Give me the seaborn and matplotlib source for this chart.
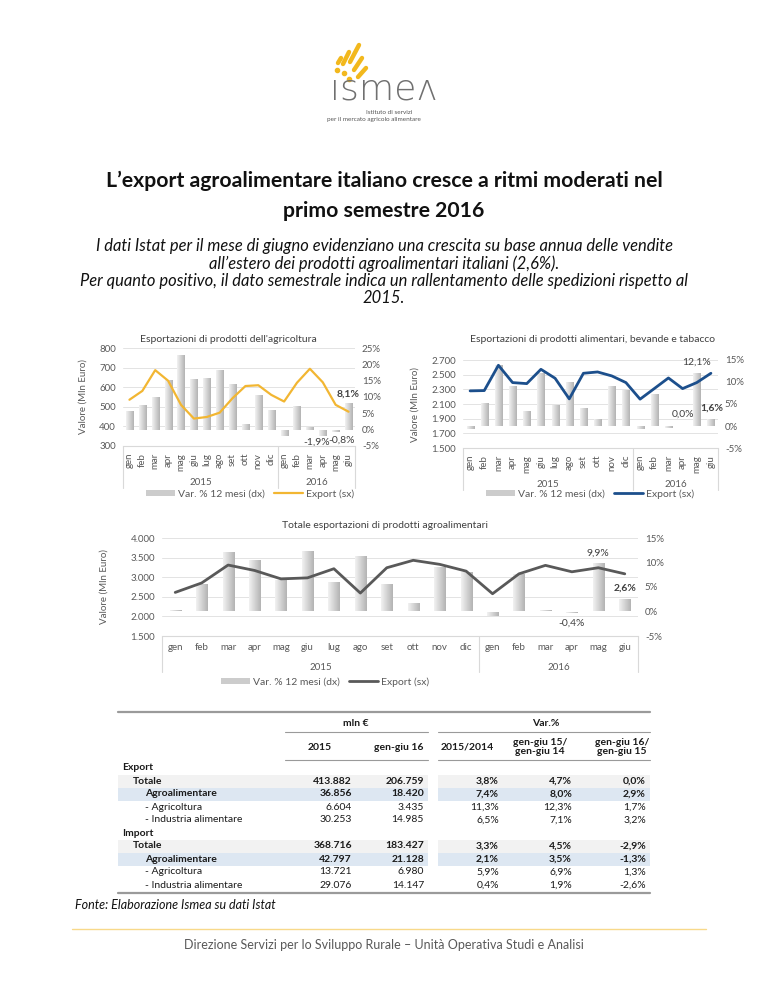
import numpy as np
import matplotlib
matplotlib.use("Agg")
import matplotlib.pyplot as plt
import seaborn as sns
from matplotlib.colors import LinearSegmentedColormap
from matplotlib.patches import Patch, Rectangle
from matplotlib.lines import Line2D

sns.set_theme(style="white")
plt.rcParams['font.family'] = ['Lato', 'DejaVu Sans']

W, H = 768, 994

# --- dati ---
months = ["gen", "feb", "mar", "apr", "mag", "giu", "lug", "ago", "set", "ott", "nov", "dic",
          "gen", "feb", "mar", "apr", "mag", "giu"]
years = ["2015", "2016"]

agri_export = [536, 581, 687, 633, 510, 440, 448, 470, 544, 606, 610, 561,
               527, 623, 694, 625, 510, 475]
agri_var = [5.7, 7.7, 9.9, 15.2, 22.8, 15.6, 15.8, 18.2, 14.1, 1.8, 10.5, 5.9,
            -2.0, 7.1, 0.7, -1.9, -0.8, 8.1]

alim_export = [2279, 2283, 2628, 2392, 2378, 2573, 2451, 2170, 2519, 2537, 2483, 2392,
               2166, 2310, 2455, 2310, 2392, 2519]
alim_var = [-0.7, 5.2, 13.8, 9.1, 3.5, 12.0, 4.8, 10.0, 4.2, 1.7, 9.0, 8.2,
            -0.7, 7.3, -0.5, 0.0, 12.1, 1.6]

tot_export = [2612, 2853, 3310, 3172, 2957, 2983, 3216, 2595, 3241, 3431, 3328, 3155,
              2578, 3086, 3302, 3138, 3241, 3086]
tot_var = [0.4, 5.7, 12.2, 10.5, 6.5, 12.4, 6.0, 11.3, 5.7, 1.8, 9.1, 8.0,
           -1.0, 7.6, 0.3, -0.4, 9.9, 2.6]

# tabella
row_labels = ["Export", "Totale", "Agroalimentare", "- Agricoltura", "- Industria alimentare",
              "Import", "Totale", "Agroalimentare", "- Agricoltura", "- Industria alimentare"]
mln_2015 = [None, 413882, 36856, 6604, 30253, None, 368716, 42797, 13721, 29076]
mln_gg16 = [None, 206759, 18420, 3435, 14985, None, 183427, 21128, 6980, 14147]
var_1514 = [None, 3.8, 7.4, 11.3, 6.5, None, 3.3, 2.1, 5.9, 0.4]
var_gg15 = [None, 4.7, 8.0, 12.3, 7.1, None, 4.5, 3.5, 6.9, 1.9]
var_gg16 = [None, 0.0, 2.9, 1.7, 3.2, None, -2.9, -1.3, 1.3, -2.6]
col_heads = ["2015", "gen-giu 16", "2015/2014", "gen-giu 15/\ngen-giu 14", "gen-giu 16/\ngen-giu 15"]

row_kind = ["group", "total", "agro", "sub", "sub", "group", "total", "agro", "sub", "sub"]

GRAY_TXT = "#595959"
bar_cmap = LinearSegmentedColormap.from_list("bar", ["#f2f2f2", "#b3b3b3"])


def px_rect(l, t, r, b):
    return [l / W, 1 - b / H, (r - l) / W, (b - t) / H]


def thousands(v):
    return f"{v:,.0f}".replace(",", ".")


def pct(v):
    return f"{v:.1f}%".replace(".", ",")


def combo_chart(rect, export, var, line_color, lw, left_lim, left_step, right_lim,
                bar_w, rot, box_depth, year_y, labels):
    ax = fig.add_axes(px_rect(*rect))
    ax2 = ax.twinx()
    x = np.arange(len(months))
    keys = [f"{i}" for i in x]

    # barre (asse destro) con sfumatura
    sns.barplot(x=keys, y=var, order=keys, ax=ax2, color="#c8c8c8", width=bar_w)
    grad = np.linspace(0, 1, 64).reshape(1, -1)
    for p in list(ax2.patches):
        x0, y0 = p.get_x(), p.get_y()
        x1, y1 = x0 + p.get_width(), y0 + p.get_height()
        im = ax2.imshow(grad, extent=[x0, x1, min(y0, y1), max(y0, y1)], aspect="auto",
                        cmap=bar_cmap, zorder=2, interpolation="bilinear")
        im.set_clip_path(p)
        p.set_facecolor("none")
        p.set_edgecolor("none")

    # griglia allineata all'asse sinistro
    l_lo, l_hi = left_lim
    r_lo, r_hi = right_lim
    for v in np.arange(l_lo + left_step, l_hi + 1, left_step):
        g = r_lo + (v - l_lo) / (l_hi - l_lo) * (r_hi - r_lo)
        ax2.axhline(g, color="#e3e3e3", lw=0.7, zorder=0)

    # linea (asse sinistro)
    sns.lineplot(x=x, y=export, ax=ax, color=line_color, lw=lw)

    ax.set_zorder(ax2.get_zorder() + 1)
    ax.patch.set_visible(False)

    ax.set_ylim(l_lo, l_hi)
    lt = np.arange(l_lo, l_hi + 1, left_step)
    ax.set_yticks(lt)
    ax.set_yticklabels([thousands(v) for v in lt])
    ax2.set_ylim(r_lo, r_hi)
    rt = np.arange(r_lo, r_hi + 1, 5)
    ax2.set_yticks(rt)
    ax2.set_yticklabels([f"{v:.0f}%" for v in rt])
    ax.set_xlim(-0.5, len(months) - 0.5)
    ax.set_xticks(x)
    ax.set_xticklabels(months, rotation=rot)
    ax.set_xlabel("")
    ax.set_ylabel("")
    ax2.set_ylabel("")

    for a in (ax, ax2):
        for s in a.spines.values():
            s.set_visible(False)
        a.tick_params(length=0, labelsize=7, labelcolor=GRAY_TXT, pad=5)
    ax.spines["bottom"].set_visible(True)
    ax.spines["bottom"].set_color("#d9d9d9")
    ax.spines["bottom"].set_linewidth(0.8)

    # categorie multilivello
    trans = ax.get_xaxis_transform()
    for sx in (-0.5, 11.5, len(months) - 0.5):
        ax.plot([sx, sx], [0, -box_depth], transform=trans, clip_on=False,
                color="#d9d9d9", lw=0.8)
    ax.text(5.5, year_y, years[0], transform=trans, ha="center", va="center",
            fontsize=7, color=GRAY_TXT)
    ax.text(14.5, year_y, years[1], transform=trans, ha="center", va="center",
            fontsize=7, color=GRAY_TXT)

    # etichette dati
    for i, dx, dy, bold in labels:
        v = var[i]
        ax2.annotate(pct(v), xy=(i, v), xytext=(dx, dy), textcoords="offset points",
                     ha="center", va="bottom" if dy > 0 else "top", fontsize=7.5,
                     color="#404040", fontweight="bold" if bold else "normal",
                     zorder=6, annotation_clip=False)
    return ax, ax2


def add_legend(ax, line_color, lw, cx, cy):
    handles = [Patch(facecolor="#cccccc", edgecolor="none"),
               Line2D([0], [0], color=line_color, lw=lw)]
    ax.legend(handles, ["Var. % 12 mesi (dx)", "Export (sx)"], loc="center",
              bbox_to_anchor=(cx / W, 1 - cy / H), bbox_transform=fig.transFigure,
              ncol=2, frameon=False, fontsize=7.5, handlelength=2.8, handleheight=0.6,
              columnspacing=0.9, handletextpad=0.3, labelcolor=GRAY_TXT)


fig = plt.figure(figsize=(W / 100, H / 100), dpi=100)
page = fig.add_axes([0, 0, 1, 1])
page.set_xlim(0, W)
page.set_ylim(H, 0)
page.axis("off")

# --- logo ---
gold = "#f2b81d"
for (x0, y0, x1, y1) in [(338, 63, 341, 58), (343, 64, 349, 52), (350, 62, 359, 45),
                         (354, 70, 362, 58), (358, 77, 366, 68)]:
    page.plot([x0, x1], [y0, y1], color=gold, lw=3.2, solid_capstyle="round")
page.scatter([337, 344, 349], [70, 73, 79], s=9, color=gold, zorder=3)
page.text(384, 100, "ısmeʌ", ha="center", va="baseline", fontsize=26, color="#707070",
          family=["DejaVu Sans"], fontweight="light")
page.text(366, 113, "Istituto di servizi", ha="left", va="center", fontsize=4.6, color="#555555")
page.text(327, 120, "per il mercato agricolo alimentare", ha="left", va="center",
          fontsize=4.6, color="#555555")

# --- titolo e testo ---
page.text(W / 2, 181, "L’export agroalimentare italiano cresce a ritmi moderati nel",
          ha="center", va="center", fontsize=15.3, fontweight="bold", color="#111111")
page.text(W / 2, 211, "primo semestre 2016", ha="center", va="center", fontsize=15.3,
          fontweight="bold", color="#111111")
para = ["I dati Istat per il mese di giugno evidenziano una crescita su base annua delle vendite",
        "all’estero dei prodotti agroalimentari italiani (2,6%).",
        "Per quanto positivo, il dato semestrale indica un rallentamento delle spedizioni rispetto al",
        "2015."]
for k, line in enumerate(para):
    page.text(W / 2, 246 + k * 17.4, line, ha="center", va="center", fontsize=11.9,
              style="italic", color="#111111")

# --- grafico 1: agricoltura ---
ax1, _ = combo_chart((123, 348, 355, 446), agri_export, agri_var, "#f2b632", 1.6,
                     (300, 800), 100, (-5, 25), 0.55, 90, 0.43, -0.37,
                     [(15, -4.5, -1, False), (16, 4.5, -2.5, False), (17, 0, 3, True)])
page.text(228, 339, "Esportazioni di prodotti dell'agricoltura", ha="center", va="center",
          fontsize=7.5, color="#404040")
page.text(83, 397, "Valore (Mln Euro)", rotation=90, ha="center", va="center",
          fontsize=7, color=GRAY_TXT)
add_legend(ax1, "#f2b632", 1.6, 250, 494)

# --- grafico 2: alimentari ---
ax2_, _ = combo_chart((463, 360, 718, 448), alim_export, alim_var, "#1c4f8c", 2.0,
                      (1500, 2700), 200, (-5, 15), 0.5, 90, 0.48, -0.41,
                      [(15, 0, 5, False), (16, 0, 4.5, False), (17, 1, 4.5, True)])
page.text(593, 340, "Esportazioni di prodotti alimentari, bevande e tabacco", ha="center",
          va="center", fontsize=7.5, color="#404040")
page.text(415, 404, "Valore (Mln Euro)", rotation=90, ha="center", va="center",
          fontsize=7, color=GRAY_TXT)
add_legend(ax2_, "#1c4f8c", 2.0, 590, 494)

# --- grafico 3: totale ---
ax3, _ = combo_chart((162, 538, 638, 636), tot_export, tot_var, "#595959", 2.0,
                     (1500, 4000), 500, (-5, 15), 0.42, 0, 0.37, -0.32,
                     [(15, 0, -4, False), (16, 0, 4, False), (17, 0, 4.5, True)])
page.text(385, 525, "Totale esportazioni di prodotti agroalimentari", ha="center",
          va="center", fontsize=7.5, color="#404040")
page.text(104, 587, "Valore (Mln Euro)", rotation=90, ha="center", va="center",
          fontsize=7, color=GRAY_TXT)
add_legend(ax3, "#595959", 2.0, 325, 682)

# --- tabella ---
TX = "#1a1a1a"
num_right = [352, 424, 499, 572, 646]
head_center = [320, 399, 467, 540, 622]
seg_a, seg_b = (285, 428), (438, 650)
page.plot([118, 650], [712, 712], color="#9a9a9a", lw=1.6)
page.text(356, 723, "mln €", ha="center", va="center", fontsize=7.5, fontweight="bold", color=TX)
page.text(546, 723, "Var.%", ha="center", va="center", fontsize=7.5, fontweight="bold", color=TX)
for yy in (732, 760):
    page.plot(seg_a, [yy, yy], color="#9a9a9a", lw=0.8)
    page.plot(seg_b, [yy, yy], color="#9a9a9a", lw=0.8)
for cx, h in zip(head_center, col_heads):
    page.text(cx, 747, h, ha="center", va="center", fontsize=7.5, fontweight="bold",
              color=TX, linespacing=1.1)

row_y0, row_h = 768, 13
cols = [mln_2015, mln_gg16, var_1514, var_gg15, var_gg16]
for r, (lab, kind) in enumerate(zip(row_labels, row_kind)):
    yy = row_y0 + r * row_h
    if kind in ("total", "agro"):
        fc = "#f2f2f2" if kind == "total" else "#dde7f2"
        page.add_patch(Rectangle((118, yy - row_h / 2), seg_a[1] - 118, row_h, fc=fc, ec="none"))
        page.add_patch(Rectangle((seg_b[0], yy - row_h / 2), seg_b[1] - seg_b[0], row_h,
                                 fc=fc, ec="none"))
    indent = {"group": 122, "total": 133, "agro": 145, "sub": 145}[kind]
    bold = kind != "sub"
    page.text(indent, yy, lab, ha="left", va="center", fontsize=7.5, color=TX,
              fontweight="bold" if bold else "normal")
    for c, (vals, xr) in enumerate(zip(cols, num_right)):
        v = vals[r]
        if v is None:
            continue
        s = thousands(v) if c < 2 else pct(v)
        page.text(xr, yy, s, ha="right", va="center", fontsize=7.5, color=TX,
                  fontweight="bold" if bold else "normal")
page.plot([118, 650], [893, 893], color="#9a9a9a", lw=1.6)

page.text(75, 905, "Fonte: Elaborazione Ismea su dati Istat", ha="left", va="center",
          fontsize=9, style="italic", color="#111111")

# --- piè di pagina ---
page.plot([72, 706], [929, 929], color="#f8d98a", lw=1.0)
page.text(W / 2, 945, "Direzione Servizi per lo Sviluppo Rurale – Unità Operativa Studi e Analisi",
          ha="center", va="center", fontsize=9, color=GRAY_TXT)

fig.savefig("out.png", dpi=100)
